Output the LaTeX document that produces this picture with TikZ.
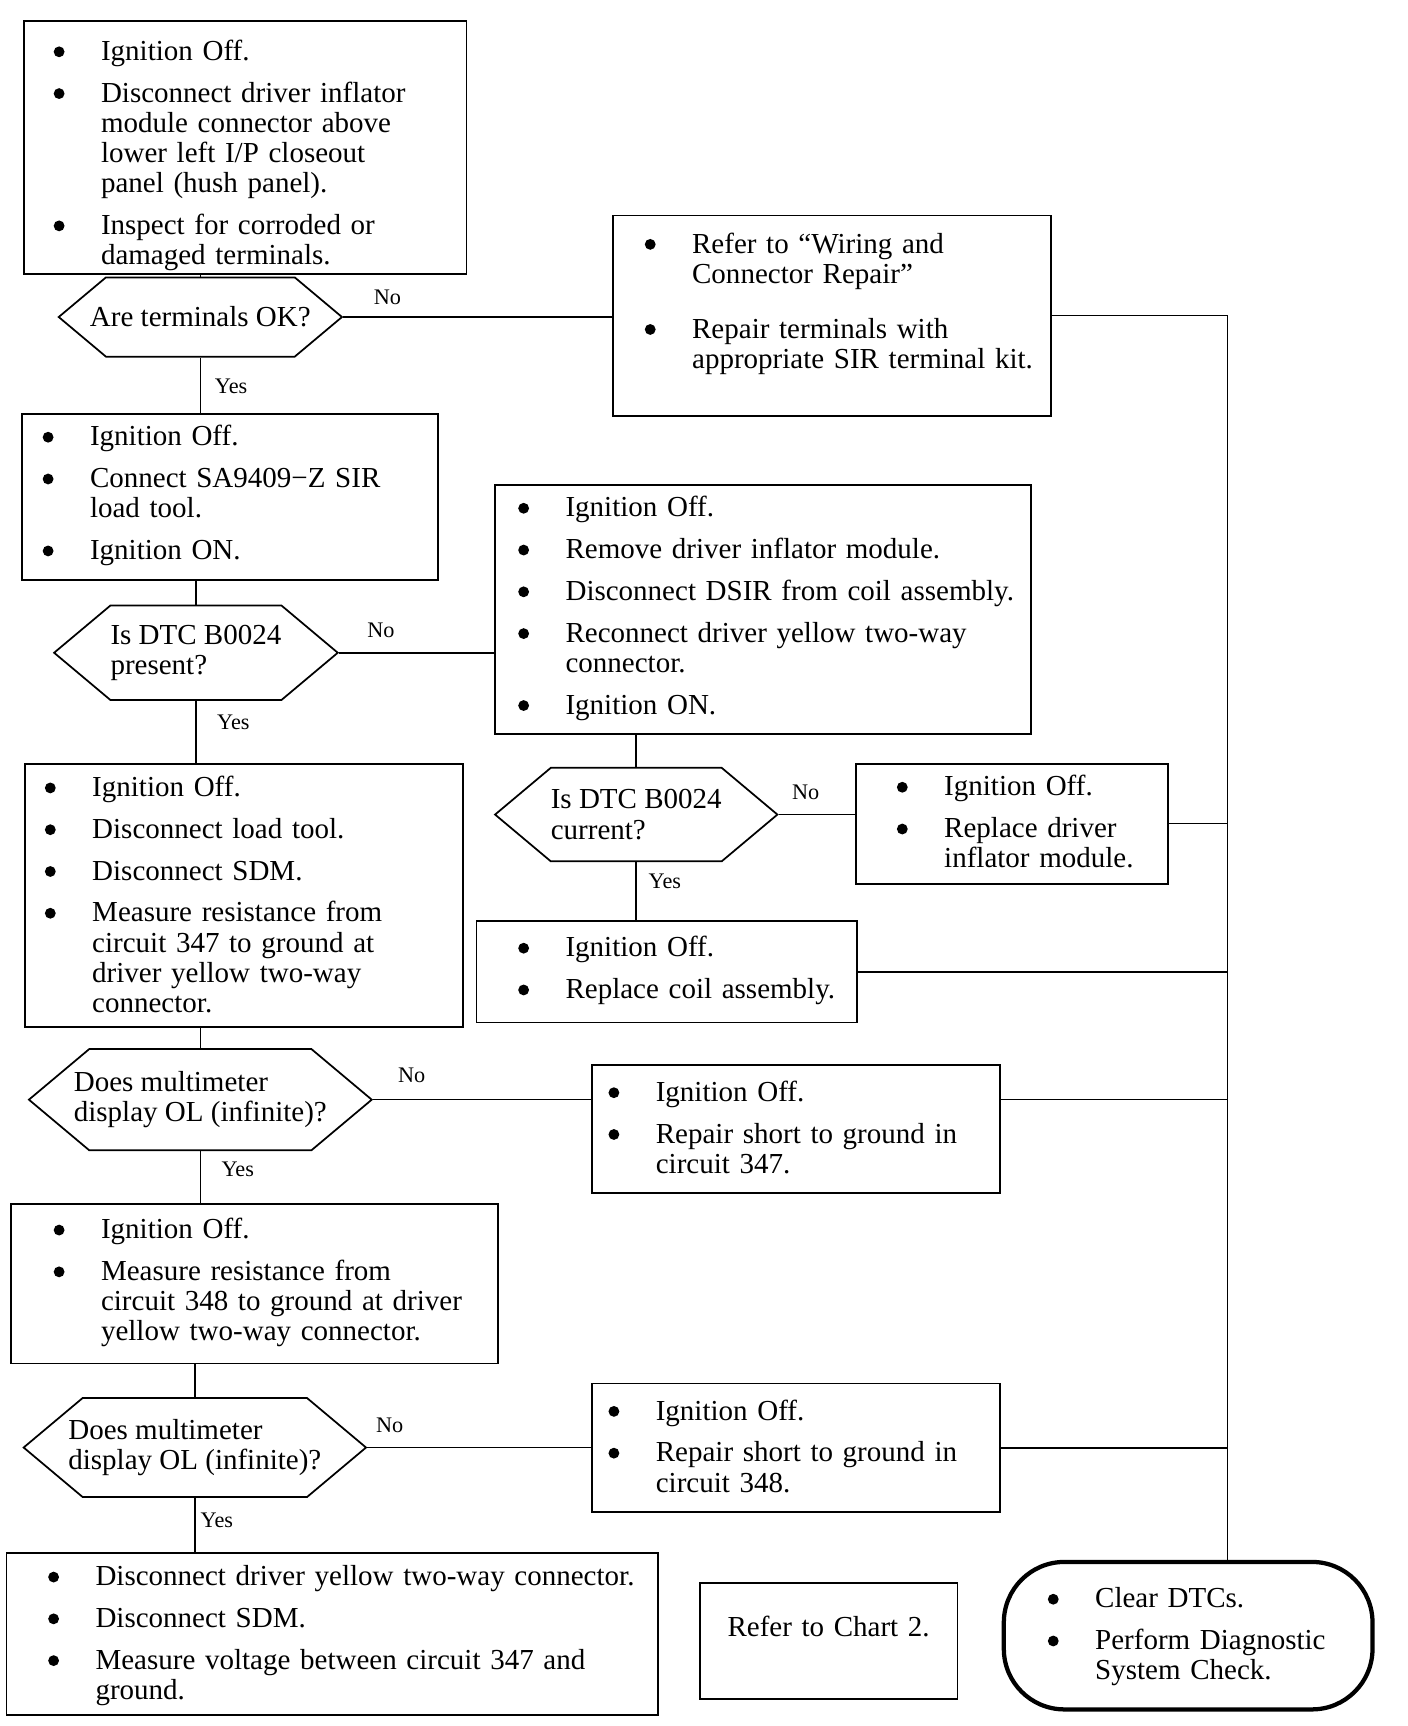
\documentclass[tikz,border=0pt]{standalone}
\usepackage{fontspec}
\setmainfont{Liberation Serif}
\usetikzlibrary{positioning,shapes.symbols}
\setlength{\parindent}{0pt}
\newcommand{\bul}{\makebox[0.86cm][l]{\tikz[baseline=-0.3em]{\fill (2.8pt,0pt) circle (2.8pt);}}}
\newcommand{\itgap}{\\[6pt]}
\tikzset{
  box/.style={draw,line width=0.9pt,anchor=north west,align=left,inner ysep=0pt,
    font=\fontsize{15pt}{15.6pt}\selectfont},
  hexq/.style={draw,line width=0.9pt,signal,signal to=west and east,
    signal pointer angle=80,inner ysep=0pt,align=left,
    font=\fontsize{15pt}{15.6pt}\selectfont},
  term/.style={box,line width=2.2pt,rounded corners=1.1cm},
  lbl/.style={font=\fontsize{11.5pt}{12pt}\selectfont,inner sep=0pt},
  wire/.style={line width=0.8pt}}

\begin{document}
\begin{tikzpicture}[x=0.02cm,y=-0.02cm]
  \useasboundingbox (0,0) rectangle (1279,1568);

  % main column
  \node[box,inner xsep=0.54cm,text width=6.96cm,minimum height=4.56cm] (a) at (21,18) {%
    \begin{tabular}{@{}l@{}l@{}}
      \noalign{\vspace{0.34cm}}
      \bul & Ignition Off.\itgap
      \bul & Disconnect driver inflator\\
           & module connector above\\
           & lower left I/P closeout\\
           & panel (hush panel).\itgap
      \bul & Inspect for corroded or\\
           & damaged terminals.
    \end{tabular}};
  \node[hexq,minimum height=1.44cm,inner xsep=-0.29cm] (q1) at (182,288) {Are terminals OK?};
  \node[box,inner xsep=0.38cm,text width=6.80cm,minimum height=3.02cm] (c) at (19,375) {%
    \begin{tabular}{@{}l@{}l@{}}
      \bul & Ignition Off.\itgap
      \bul & Connect SA9409−Z SIR\\
           & load tool.\itgap
      \bul & Ignition ON.
    \end{tabular}};
  \node[hexq,minimum height=1.72cm,inner xsep=0cm] (q2) at (178,593) {Is DTC B0024\\present?};
  \node[box,inner xsep=0.36cm,text width=7.24cm,minimum height=4.78cm] (e) at (22,693) {%
    \begin{tabular}{@{}l@{}l@{}}
      \noalign{\vspace{0.12cm}}
      \bul & Ignition Off.\itgap
      \bul & Disconnect load tool.\itgap
      \bul & Disconnect SDM.\itgap
      \bul & Measure resistance from\\
           & circuit 347 to ground at\\
           & driver yellow two-way\\
           & connector.
    \end{tabular}};
  \node[hexq,minimum height=1.84cm,inner xsep=-0.28cm] (q3) at (182,999) {Does multimeter\\display OL (infinite)?};
  \node[box,inner xsep=0.78cm,text width=7.30cm,minimum height=2.90cm] (f) at (9,1093) {%
    \begin{tabular}{@{}l@{}l@{}}
      \bul & Ignition Off.\itgap
      \bul & Measure resistance from\\
           & circuit 348 to ground at driver\\
           & yellow two-way connector.
    \end{tabular}};
  \node[hexq,minimum height=1.80cm,inner xsep=-0.26cm] (q4) at (177,1315) {Does multimeter\\display OL (infinite)?};
  \node[box,inner xsep=0.76cm,text width=10.32cm,minimum height=2.94cm] (g) at (5,1410) {%
    \begin{tabular}{@{}l@{}l@{}}
      \noalign{\vspace{0.10cm}}
      \bul & Disconnect driver yellow two-way connector.\itgap
      \bul & Disconnect SDM.\itgap
      \bul & Measure voltage between circuit 347 and\\
           & ground.
    \end{tabular}};

  % side branches
  \node[box,inner xsep=0.58cm,text width=6.80cm,minimum height=3.64cm] (b) at (556,195) {%
    \begin{tabular}{@{}l@{}l@{}}
      \bul & Refer to “Wiring and\\
           & Connector Repair”\\[0.45cm]
      \bul & Repair terminals with\\
           & appropriate SIR terminal kit.\\[0.40cm]
    \end{tabular}};
  \node[box,inner xsep=0.42cm,text width=8.90cm,minimum height=4.52cm] (d) at (449,440) {%
    \begin{tabular}{@{}l@{}l@{}}
      \bul & Ignition Off.\itgap
      \bul & Remove driver inflator module.\itgap
      \bul & Disconnect DSIR from coil assembly.\itgap
      \bul & Reconnect driver yellow two-way\\
           & connector.\itgap
      \bul & Ignition ON.
    \end{tabular}};
  \node[hexq,minimum height=1.70cm,inner xsep=0cm] (q5) at (578,740) {Is DTC B0024\\current?};
  \node[box,inner xsep=0.74cm,text width=4.18cm,minimum height=2.18cm] (h) at (777,693) {%
    \begin{tabular}{@{}l@{}l@{}}
      \noalign{\vspace{0.08cm}}
      \bul & Ignition Off.\itgap
      \bul & Replace driver\\
           & inflator module.
    \end{tabular}};
  \node[box,inner xsep=0.76cm,text width=5.40cm,minimum height=1.84cm] (i) at (432,836) {%
    \begin{tabular}{@{}l@{}l@{}}
      \bul & Ignition Off.\itgap
      \bul & Replace coil assembly.
    \end{tabular}};
  \node[box,inner xsep=0.30cm,text width=6.82cm,minimum height=2.32cm] (j) at (537,967) {%
    \begin{tabular}{@{}l@{}l@{}}
      \noalign{\vspace{0.08cm}}
      \bul & Ignition Off.\itgap
      \bul & Repair short to ground in\\
           & circuit 347.
    \end{tabular}};
  \node[box,inner xsep=0.30cm,text width=6.82cm,minimum height=2.34cm] (k) at (537,1256) {%
    \begin{tabular}{@{}l@{}l@{}}
      \noalign{\vspace{0.08cm}}
      \bul & Ignition Off.\itgap
      \bul & Repair short to ground in\\
           & circuit 348.
    \end{tabular}};
  \node[box,align=center,inner xsep=0cm,text width=4.68cm,minimum height=2.12cm] (l) at (635,1437) {%
    \begin{tabular}{c}Refer to Chart 2.\\[0.40cm]\end{tabular}};
  \node[term,inner xsep=0.80cm,text width=5.10cm,minimum height=2.68cm] (m) at (910,1417) {%
    \begin{tabular}{@{}l@{}l@{}}
      \noalign{\vspace{0.08cm}}
      \bul & Clear DTCs.\itgap
      \bul & Perform Diagnostic\\
           & System Check.
    \end{tabular}};

  % answers
  \node[lbl] (no1) at (352,270) {No};
  \node[lbl] (no2) at (346,573) {No};
  \node[lbl] (no3) at (732,720) {No};
  \node[lbl] (no4) at (374,977) {No};
  \node[lbl] (no5) at (354,1295) {No};
  \node[lbl] (yes1) at (210,351) {Yes};
  \node[lbl] (yes2) at (212,656) {Yes};
  \node[lbl] (yes3) at (604,801) {Yes};
  \node[lbl] (yes4) at (216,1062) {Yes};
  \node[lbl] (yes5) at (197,1381) {Yes};

  % connectors
  \draw[wire] (q1.north) -- (q1.north |- a.south);
  \draw[wire] (q1.south) -- (q1.south |- c.north);
  \draw[wire] (q2.north) -- (q2.north |- c.south);
  \draw[wire] (q2.south) -- (q2.south |- e.north);
  \draw[wire] (q3.north) -- (q3.north |- e.south);
  \draw[wire] (q3.south) -- (q3.south |- f.north);
  \draw[wire] (q4.north) -- (q4.north |- f.south);
  \draw[wire] (q4.south) -- (q4.south |- g.north);
  \draw[wire] (q1.east) -- (q1.east -| b.west);
  \draw[wire] (q2.east) -- (q2.east -| d.west);
  \draw[wire] (q5.north) -- (q5.north |- d.south);
  \draw[wire] (q5.south) -- (q5.south |- i.north);
  \draw[wire] (q5.east) -- (q5.east -| h.west);
  \draw[wire] (q3.east) -- (q3.east -| j.west);
  \draw[wire] (q4.east) -- (q4.east -| k.west);
  % return line to the end box
  \coordinate (bus) at (1115,286);
  \draw[wire] (b.east) -- (b.east -| bus) -- (bus |- m.north);
  \draw[wire] (h.east) -- (h.east -| bus);
  \draw[wire] (i.east) -- (i.east -| bus);
  \draw[wire] (q3.east -| j.east) -- (q3.east -| bus);
  \draw[wire] (k.east) -- (k.east -| bus);
\end{tikzpicture}
\end{document}
